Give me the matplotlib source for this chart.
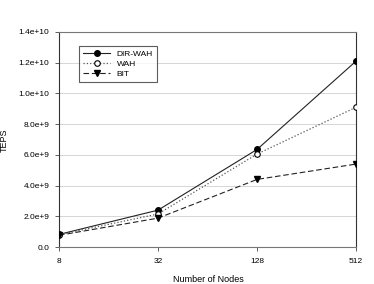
import matplotlib
matplotlib.use("Agg")
import matplotlib.pyplot as plt

plt.rcParams['font.family'] = ['Liberation Sans', 'DejaVu Sans']

nodes = [8, 32, 128, 512]
dir_wah = [0.82e9, 2.4e9, 6.35e9, 1.21e10]
wah = [0.80e9, 2.15e9, 6.05e9, 9.1e9]
bit = [0.76e9, 1.88e9, 4.4e9, 5.4e9]
yticks = [0, 2e9, 4e9, 6e9, 8e9, 1e10, 1.2e10, 1.4e10]
ylabels = ["0.0", "2.0e+9", "4.0e+9", "6.0e+9", "8.0e+9", "1.0e+10", "1.2e+10", "1.4e+10"]

fig = plt.figure(figsize=(3.74, 2.84), dpi=100)
ax = fig.add_axes([59/374, 1 - 247/284, (356-59)/374, (247-32)/284])

ax.set_xscale('log', base=2)
ax.plot(nodes, dir_wah, '-', color='#222222', lw=0.8, marker='o', ms=4,
        mfc='black', mec='black', label='DIR-WAH', zorder=3)
ax.plot(nodes, wah, ':', color='#555555', lw=0.9, marker='o', ms=4,
        mfc='white', mec='black', mew=0.8, label='WAH', zorder=3)
ax.plot(nodes, bit, '--', color='#222222', lw=0.8, dashes=(5, 2.5), marker='v', ms=4,
        mfc='black', mec='black', label='BIT', zorder=3)

ax.set_xlim(8, 512)
ax.set_ylim(0, 1.4e10)
ax.set_xticks(nodes)
ax.set_xticklabels([str(n) for n in nodes])
ax.minorticks_off()
ax.set_yticks(yticks)
ax.set_yticklabels(ylabels)
ax.yaxis.grid(True, color='#d6d6d6', lw=0.7)
ax.set_axisbelow(True)

ax.tick_params(labelsize=6, length=3, width=0.6, color='#444444', pad=4)
ax.tick_params(axis='x', pad=5)
for side in ['left', 'right']:
    ax.spines[side].set_color('#333333')
    ax.spines[side].set_linewidth(0.8)
for side in ['top', 'bottom']:
    ax.spines[side].set_color('#777777')
    ax.spines[side].set_linewidth(0.8)

ax.set_xlabel('Number of Nodes', fontsize=6.5)
ax.xaxis.set_label_coords((208-59)/297, -(275-247)/215)
ax.set_ylabel('TEPS', fontsize=6.5)
ax.yaxis.set_label_coords(-(59-9)/297, (247-140)/215)

leg = ax.legend(loc='upper left', bbox_to_anchor=(16/297, 1 - 10/215), fontsize=6,
                frameon=True, fancybox=False, edgecolor='#333333', handlelength=3.2,
                borderpad=0.5, labelspacing=0.25, handletextpad=0.8)
leg.get_frame().set_linewidth(0.8)

fig.savefig('out.png', dpi=100)
